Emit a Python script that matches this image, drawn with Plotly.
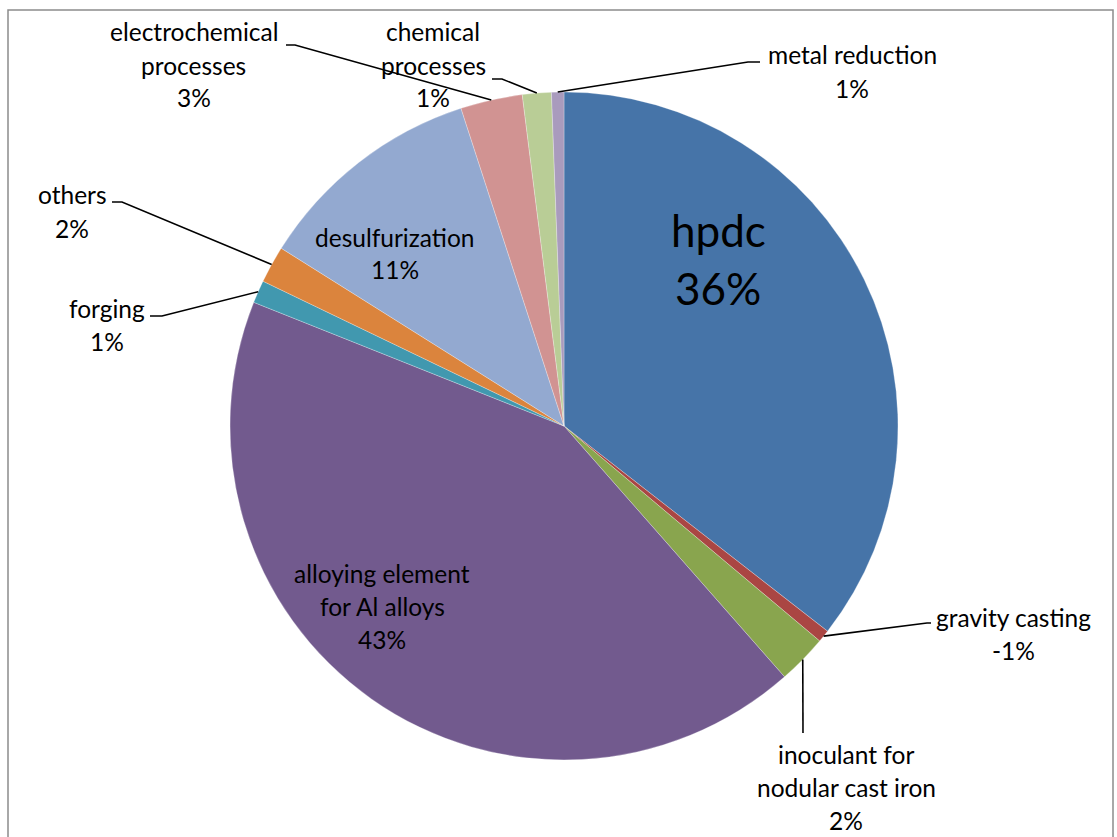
import math
import plotly.graph_objects as go

# Magnesium consumption by application, share in percent (clockwise from 12 o'clock)
categories = [
    "hpdc",
    "gravity casting",
    "inoculant for<br>nodular cast iron",
    "alloying element<br>for Al alloys",
    "forging",
    "others",
    "desulfurization",
    "electrochemical<br>processes",
    "chemical<br>processes",
    "metal reduction",
]
shares = [35.6, -0.6, 2.4, 42.6, 1.1, 1.8, 11.1, 3.0, 1.4, 0.6]
colors = [
    "#4674A8", "#AA4643", "#89A54E", "#725A8E", "#4198AF",
    "#DB843D", "#93A9D0", "#D19392", "#B9CD96", "#A99BBD",
]

W, H = 1117, 837
CX, CY, R = 564, 426, 334          # pie centre and radius in pixels
FONT = "Lato"
FS = 24.5


def px(x):
    return x / W


def py(y):
    return 1 - y / H


# Label placement: (centre x, first-line y, font size, line step, leader elbow, leader end)
label_layout = [
    (718, 230, 44, 58, None, None),
    (1013, 617, FS, 33, (927, 623), (931, 623)),
    (846, 754, FS, 33, (803, 733), (803, 733)),
    (382, 573, FS, 33, None, None),
    (107, 308, FS, 33, (162, 316), (150, 316)),
    (72, 195, FS, 33, (122, 202), (112, 202)),
    (395, 237, FS, 33, None, None),
    (194, 32, FS, 33, (295, 45), (286, 45)),
    (433, 32, FS, 33, (502, 79), (492, 79)),
    (852, 55, FS, 33, (748, 62), (760, 62)),
]

sizes = [abs(v) for v in shares]
total = sum(sizes)

fig = go.Figure(
    go.Pie(
        labels=[c.replace("<br>", " ") for c in categories],
        values=sizes,
        sort=False,
        direction="clockwise",
        rotation=0,
        marker=dict(colors=colors, line=dict(color="rgba(255,255,255,0.45)", width=0.6)),
        textinfo="none",
        hoverinfo="skip",
        showlegend=False,
        domain=dict(x=[px(CX - R), px(CX + R)], y=[py(CY + R), py(CY - R)]),
    )
)

annotations = []
shapes = []
cum = 0.0
for cat, val, size, lay in zip(categories, shares, sizes, label_layout):
    x0, y0, fs, step, elbow, end = lay
    lines = cat.split("<br>") + [f"{val:.0f}%"]
    for k, line in enumerate(lines):
        annotations.append(dict(
            x=px(x0), y=py(y0 + k * step), xref="paper", yref="paper",
            text=line, showarrow=False, xanchor="center", yanchor="middle",
            font=dict(family=FONT, size=fs, color="#000000"),
        ))
    mid = (cum + size / 2) / total * 2 * math.pi
    cum += size
    if elbow is not None:
        ax = CX + R * math.sin(mid)
        ay = CY - R * math.cos(mid)
        path = (f"M {px(ax)} {py(ay)} L {px(elbow[0])} {py(elbow[1])} "
                f"L {px(end[0])} {py(end[1])}")
        shapes.append(dict(type="path", path=path, xref="paper", yref="paper",
                           line=dict(color="#000000", width=1.6)))

# chart-area frame
shapes.append(dict(type="rect", xref="paper", yref="paper",
                   x0=px(8), x1=px(1113), y0=py(860), y1=py(10),
                   line=dict(color="#8C8C8C", width=1.5), layer="below"))

fig.update_layout(
    width=W, height=H,
    margin=dict(l=0, r=0, t=0, b=0),
    paper_bgcolor="#FFFFFF",
    plot_bgcolor="#FFFFFF",
    annotations=annotations,
    shapes=shapes,
)

fig.write_html("out.html")
